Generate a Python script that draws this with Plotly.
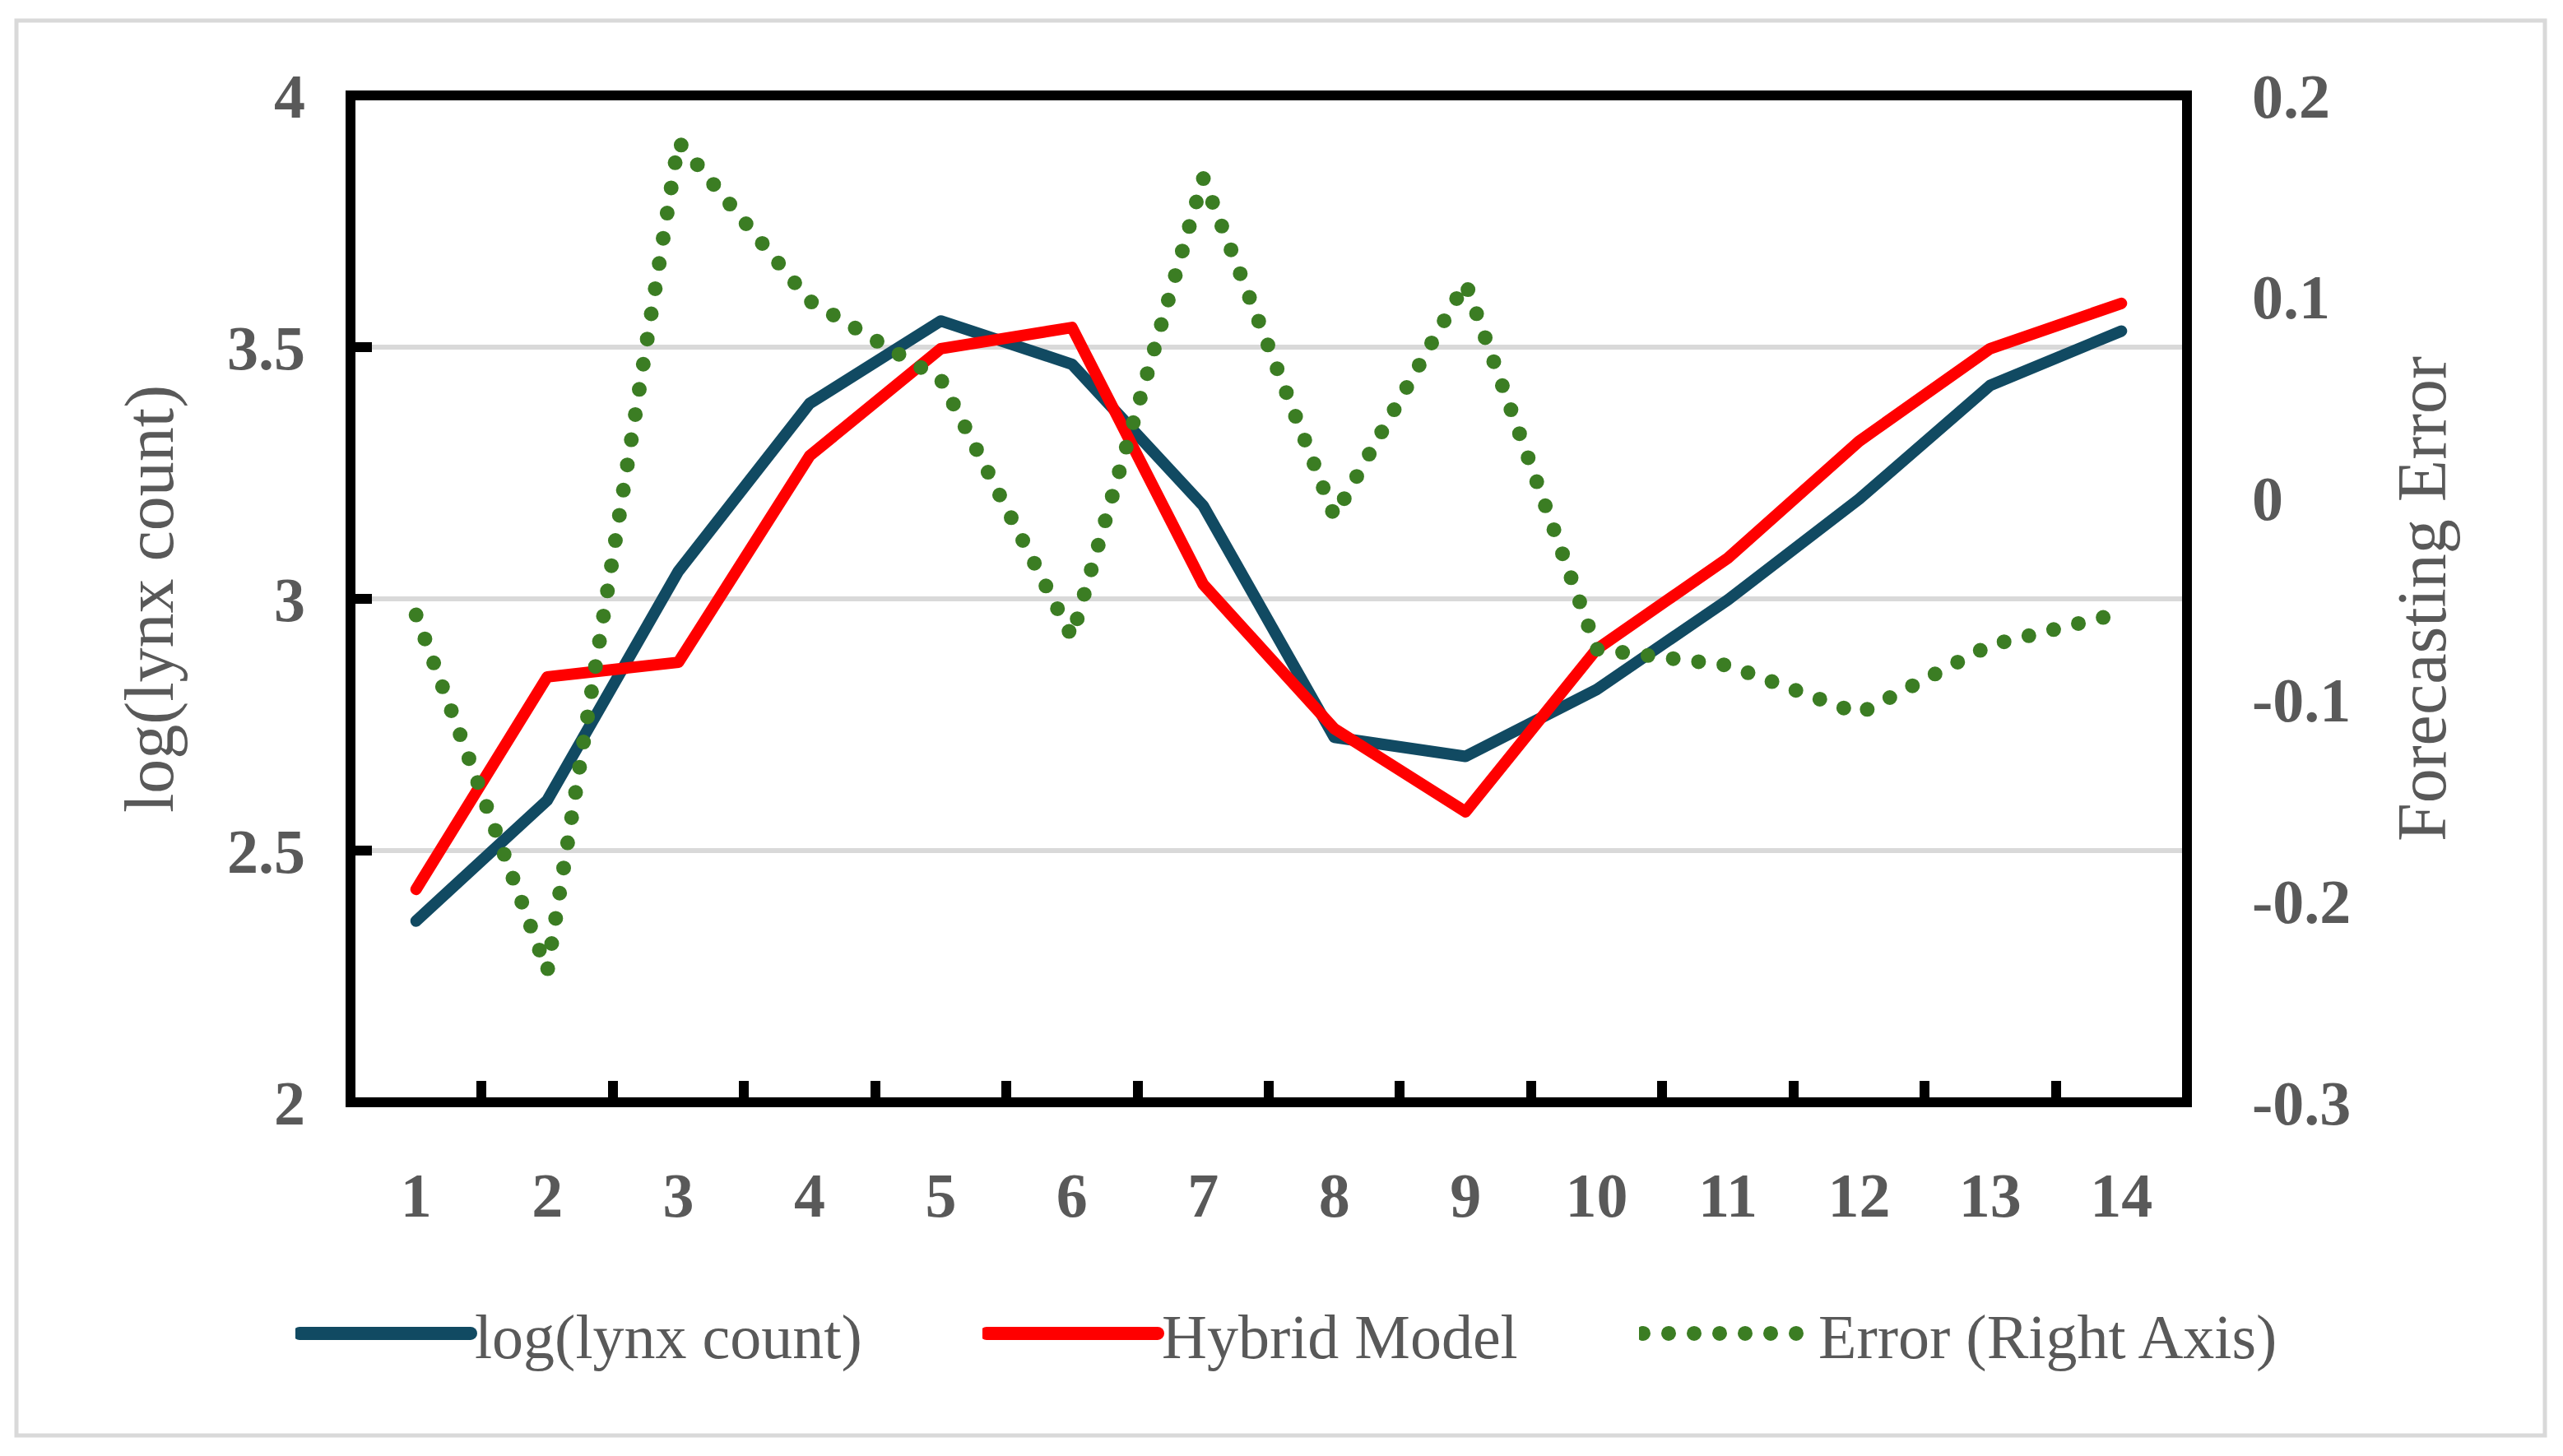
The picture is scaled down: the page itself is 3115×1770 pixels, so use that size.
import plotly.graph_objects as go

# ---------------- data ----------------
periods = ["1", "2", "3", "4", "5", "6", "7", "8", "9", "10", "11", "12", "13", "14"]
log_lynx = [2.360, 2.600, 3.055, 3.388, 3.552, 3.466, 3.185, 2.725, 2.687, 2.820,
            2.998, 3.198, 3.424, 3.532]
hybrid = [2.423, 2.845, 2.874, 3.284, 3.497, 3.539, 3.029, 2.742, 2.577, 2.900,
          3.081, 3.313, 3.497, 3.587]
error = [-0.058, -0.235, 0.177, 0.098, 0.059, -0.069, 0.159, -0.009, 0.107, -0.075,
         -0.083, -0.107, -0.073, -0.057]

left_ticks = [2, 2.5, 3, 3.5, 4]
left_ticktext = ["2", "2.5", "3", "3.5", "4"]
right_ticks = [-0.3, -0.2, -0.1, 0, 0.1, 0.2]
right_ticktext = ["-0.3", "-0.2", "-0.1", "0", "0.1", "0.2"]

# ---------------- style ----------------
W, H = 3115, 1770
L, R, T, B = 426, 2658, 116, 1340
FONT = "Liberation Serif"
GREY = "#595959"
NAVY = "#114a62"
RED = "#ff0000"
GREEN = "#3b7d23"


def px_x(p):
    return (p - L) / (R - L)


def px_y(p):
    return (B - p) / (B - T)


fig = go.Figure()
fig.add_trace(go.Scatter(x=periods, y=log_lynx, name="log(lynx count)", mode="lines",
                         line=dict(color=NAVY, width=14), legend="legend"))
fig.add_trace(go.Scatter(x=periods, y=hybrid, name="Hybrid Model", mode="lines",
                         line=dict(color=RED, width=14), legend="legend2"))
fig.add_trace(go.Scatter(x=periods, y=error, name="Error (Right Axis)", mode="lines",
                         yaxis="y2", line=dict(color=GREEN, width=18, dash="0px,31px"),
                         legend="legend3"))

tickfont = dict(family=FONT, size=76, color=GREY, weight="bold")
legfont = dict(family=FONT, size=76, color=GREY)
titlefont = dict(family=FONT, size=84, color=GREY)


def leg(xpix):
    return dict(orientation="h", xref="container", yref="container",
                x=xpix / W, y=1 - 1621 / H, xanchor="left", yanchor="middle",
                font=legfont, itemwidth=208, bgcolor="rgba(0,0,0,0)", borderwidth=0)


fig.update_layout(
    width=W, height=H, autosize=False,
    paper_bgcolor="white", plot_bgcolor="white",
    margin=dict(l=L, r=W - R, t=T, b=H - B, pad=0),
    showlegend=True,
    legend=leg(359), legend2=leg(1194), legend3=leg(1992),
    xaxis=dict(type="category", range=[-0.5, 13.5], tickson="boundaries",
               ticks="inside", ticklen=26, tickwidth=12, tickcolor="black",
               showgrid=False, showline=False, zeroline=False,
               tickfont=tickfont, ticklabelstandoff=62),
    yaxis=dict(range=[2, 4], tickvals=left_ticks, ticktext=left_ticktext,
               ticks="inside", ticklen=26, tickwidth=12, tickcolor="black",
               showgrid=True, gridcolor="#d9d9d9", gridwidth=6,
               showline=False, zeroline=False, tickfont=tickfont,
               ticklabelstandoff=54,
               title=dict(text="log(lynx count)", standoff=37, font=titlefont)),
    yaxis2=dict(range=[-0.3, 0.2], overlaying="y", side="right",
                tickvals=right_ticks, ticktext=right_ticktext,
                ticks="", showgrid=False, showline=False, zeroline=False,
                tickfont=tickfont, ticklabelstandoff=78,
                title=dict(text="Forecasting Error", standoff=56, font=titlefont)),
    shapes=[
        dict(type="rect", xref="paper", yref="paper", x0=0, x1=1, y0=0, y1=1,
             line=dict(color="black", width=12), layer="above"),
        dict(type="rect", xref="paper", yref="paper",
             x0=px_x(20), x1=px_x(3093), y0=px_y(1745), y1=px_y(25),
             line=dict(color="#d9d9d9", width=5), layer="below"),
    ],
)

post = """
document.body.style.margin = '0';
document.body.style.padding = '0';
var gd = document.getElementById('{plot_id}');
function fixCaps(){
  gd.querySelectorAll('path.js-line').forEach(function(p){
    p.style.strokeLinecap = 'round';
    p.style.strokeLinejoin = 'round';
  });
  gd.querySelectorAll('g.legendlines path.js-line').forEach(function(p){
    var da = p.style.strokeDasharray || p.getAttribute('stroke-dasharray') || '';
    p.style.strokeWidth = (da && da !== 'none') ? '18px' : '16px';
  });
}
fixCaps();
if (gd.on) { gd.on('plotly_afterplot', fixCaps); }
"""

fig.write_html("out.html", config={"displayModeBar": False}, post_script=post)
